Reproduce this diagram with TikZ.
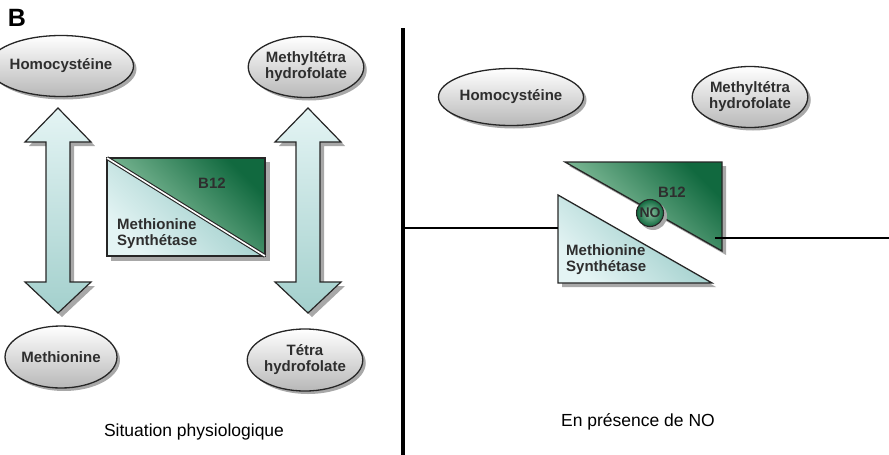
\documentclass[tikz,border=0pt]{standalone}
\usepackage{fontspec}
\setmainfont{Liberation Sans}
\usetikzlibrary{shapes.geometric,shadows}
\definecolor{txt}{HTML}{2E2E2E}
\definecolor{tealL}{HTML}{E4F4F4}
\definecolor{tealD}{HTML}{8CC4C0}
\definecolor{greenL}{HTML}{A8D8B8}
\definecolor{greenD}{HTML}{11693F}
\definecolor{shadowc}{HTML}{A8A8A8}
\tikzset{
  mol/.style={ellipse, draw=black!85, line width=1.3pt, top color=white, bottom color=black!28,
    font=\bfseries\fontsize{15}{16}\selectfont, text=txt, align=center, inner sep=0pt,
    drop shadow={shadow xshift=3pt, shadow yshift=-3pt, fill=shadowc, opacity=1}},
  arrowshape/.style={draw=black!85, line width=1.2pt, top color=tealL, bottom color=tealD!80},
  arrowshadow/.style={fill=shadowc},
  lbl/.style={font=\bfseries\fontsize{15}{16}\selectfont, text=txt, align=left, inner sep=0pt},
  caption/.style={font=\fontsize{17.5}{19}\selectfont, inner sep=0pt},
  enzL/.style={draw=black!85, line width=1.3pt, left color=tealL, right color=tealD},
  enzD/.style={draw=black!85, line width=1.3pt, left color=greenL, right color=greenD},
}
\begin{document}
\begin{tikzpicture}[x=1pt,y=-1pt]
\useasboundingbox (0,0) rectangle (889,455);
\node[font=\bfseries\fontsize{25}{25}\selectfont, inner sep=0pt] (B) at (17,18) {B};

% left half: molecules
\node[mol, minimum width=110pt, minimum height=61pt] (homoL) at (61,66) {Homocystéine};
\node[mol, minimum width=104pt, minimum height=61pt] (mthfL) at (306,67) {Methyltétra\\hydrofolate};
\node[mol, minimum width=110pt, minimum height=62pt] (metL) at (61,357) {Methionine};
\node[mol, minimum width=110pt, minimum height=62pt] (thfL) at (305,360) {Tétra\\hydrofolate};

% double arrows
\foreach \cx in {58,308}{
  \fill[arrowshadow, xshift=4pt, yshift=-4pt]
    (\cx,108) -- (\cx+33,142) -- (\cx+12,142) -- (\cx+12,282) -- (\cx+33,282) -- (\cx,313)
    -- (\cx-33,282) -- (\cx-12,282) -- (\cx-12,142) -- (\cx-33,142) -- cycle;
  \path[arrowshape]
    (\cx,108) -- (\cx+33,142) -- (\cx+12,142) -- (\cx+12,282) -- (\cx+33,282) -- (\cx,313)
    -- (\cx-33,282) -- (\cx-12,282) -- (\cx-12,142) -- (\cx-33,142) -- cycle;
}

% left enzyme rectangle
\fill[shadowc] (111,162) rectangle (270,261);
\path[enzL, shading angle=135, draw=none] (107,158) -- (107,256) -- (265,256) -- cycle;
\path[enzD, shading angle=135, draw=none] (107,158) -- (265,158) -- (265,256) -- cycle;
\draw[black!85, line width=1.5pt] (107,158) rectangle (265,256);
\draw[black!85, line width=1.1pt, double=white, double distance=1.6pt] (107,158) -- (265,256);
\node[lbl] (b12L) at (212,183) {B12};
\node[lbl, anchor=west] (msL) at (117,234) {Methionine\\Synthétase};

\node[caption] (capL) at (194,432) {Situation physiologique};

% divider
\draw[line width=4pt] (403,28) -- (403,455);

% right half molecules
\node[mol, minimum width=112pt, minimum height=57pt] (homoR) at (511,97) {Homocystéine};
\node[mol, minimum width=102pt, minimum height=61pt] (mthfR) at (750,97) {Methyltétra\\hydrofolate};

% right enzyme: separated triangles
\fill[shadowc] (569,166) -- (726,166) -- (726,255) -- cycle;
\path[enzD, shading angle=135] (565,162) -- (722,162) -- (722,251) -- cycle;
\fill[shadowc] (562,199) -- (562,287) -- (716,287) -- cycle;
\path[enzL, shading angle=135] (558,195) -- (558,283) -- (712,283) -- cycle;

\node[lbl] (b12R) at (672,192) {B12};
\node[lbl, anchor=west] (msR) at (566,260) {Methionine\\Synthétase};

\fill[shadowc] (653,216) circle (14pt);
\node[circle, draw=black!85, line width=1.1pt, minimum size=27pt, inner sep=0pt,
  inner color=greenL!80!greenD, outer color=greenD, font=\bfseries\fontsize{14}{14}\selectfont, text=txt] (no) at (650,213) {NO};

% connecting lines
\coordinate (dL) at (405,228);
\coordinate (tL) at (558,228);
\coordinate (tR) at (715,238);
\coordinate (eR) at (889,238);
\draw[line width=2pt] (dL) -- (tL);
\draw[line width=2pt] (tR) -- (eR);

\node[caption] (capR) at (638,422) {En présence de NO};
\end{tikzpicture}
\end{document}
